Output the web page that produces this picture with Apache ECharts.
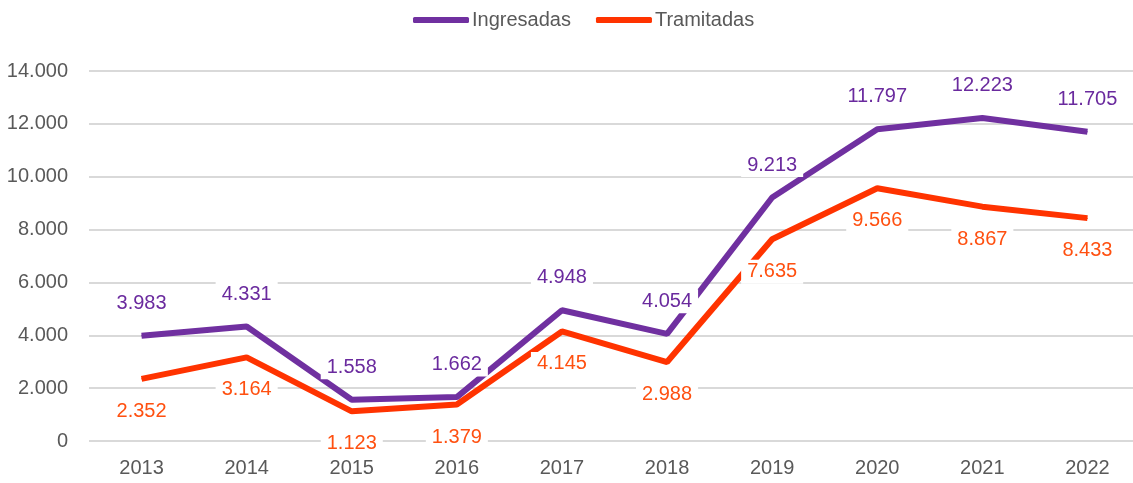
<!DOCTYPE html>
<html>
<head>
<meta charset="utf-8">
<script src="https://cdn.jsdelivr.net/npm/echarts@6/dist/echarts.min.js"></script>
<style>
  html, body { margin: 0; padding: 0; background: #fff; }
  #chart { width: 1133px; height: 483px; }
</style>
</head>
<body>
<div id="chart"></div>
<script>
// datos
const years = ['2013', '2014', '2015', '2016', '2017', '2018', '2019', '2020', '2021', '2022'];
const ingresadas = [3983, 4331, 1558, 1662, 4948, 4054, 9213, 11797, 12223, 11705];
const tramitadas = [2352, 3164, 1123, 1379, 4145, 2988, 7635, 9566, 8867, 8433];

// formato con punto de miles
function fmt (v) {
    return String(v).replace(/\B(?=(\d{3})+(?!\d))/g, '.');
}

const chart = echarts.init(document.getElementById('chart'));
const font = '"Liberation Sans", Arial, sans-serif';
const fs = 20;

function labelCfg (pos, color) {
    return {
        show: true,
        position: pos,
        distance: 20,
        color: color,
        fontSize: fs,
        fontFamily: font,
        backgroundColor: '#fff',
        padding: [2, 6],
        formatter: function (p) { return fmt(p.value); }
    };
}

const option = {
    animation: false,
    backgroundColor: '#fff',
    textStyle: { fontFamily: font },
    legend: {
        top: 5,
        left: 408,
        itemWidth: 56,
        itemHeight: 6,
        itemGap: 25,
        icon: 'roundRect',
        textStyle: { fontSize: fs, color: '#595959', fontFamily: font, padding: [0, 0, 0, -2] },
        data: ['Ingresadas', 'Tramitadas']
    },
    grid: { left: 89, width: 1051, top: 71, bottom: 42, containLabel: false, outerBoundsMode: 'none' },
    xAxis: {
        type: 'category',
        data: years,
        boundaryGap: true,
        axisLine: { show: false },
        axisTick: { show: false },
        axisLabel: { fontSize: fs, color: '#595959', fontFamily: font, margin: 17 }
    },
    yAxis: {
        type: 'value',
        min: 0,
        max: 14000,
        interval: 2000,
        axisLine: { show: false },
        axisTick: { show: false },
        splitLine: { lineStyle: { color: '#d9d9d9', width: 2 } },
        axisLabel: {
            fontSize: fs, color: '#595959', fontFamily: font, margin: 21,
            formatter: function (v) { return fmt(v); }
        }
    },
    series: [
        {
            name: 'Ingresadas',
            type: 'line',
            data: ingresadas,
            symbol: 'circle',
            symbolSize: 1,
            showSymbol: true,
            itemStyle: { color: '#7030A0' },
            lineStyle: { width: 6, color: '#7030A0' },
            label: labelCfg('top', '#6A2A9E'),
            z: 3
        },
        {
            name: 'Tramitadas',
            type: 'line',
            data: tramitadas,
            symbol: 'circle',
            symbolSize: 1,
            showSymbol: true,
            itemStyle: { color: '#FF3300' },
            lineStyle: { width: 6, color: '#FF3300' },
            label: labelCfg('bottom', '#FF5010'),
            z: 2
        }
    ]
};
chart.setOption(option);
</script>
</body>
</html>
